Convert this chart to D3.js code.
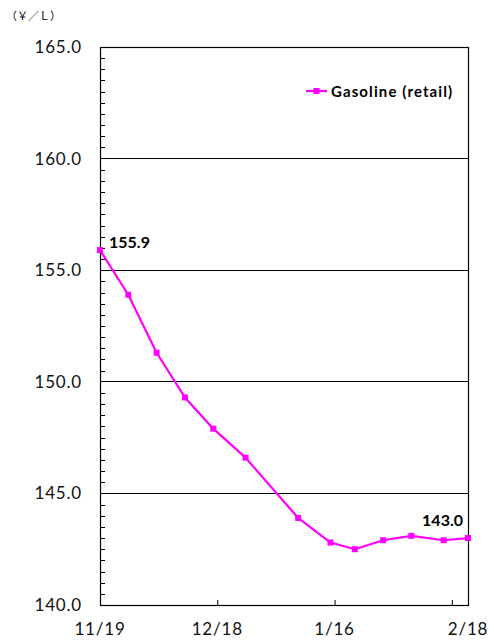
<!DOCTYPE html>
<html>
<head>
<meta charset="utf-8">
<script src="https://cdn.jsdelivr.net/npm/d3@7"></script>
<style>
  html, body { margin: 0; padding: 0; background: #fff; }
  svg { display: block; }
</style>
</head>
<body>
<script>
// Weekly retail gasoline price survey (yen per litre)
const surveyDates = ["2018-11-19", "2018-11-26", "2018-12-03", "2018-12-10", "2018-12-17",
  "2018-12-25", "2019-01-07", "2019-01-15", "2019-01-21", "2019-01-28",
  "2019-02-04", "2019-02-12", "2019-02-18"];
const gasolinePrices = [155.9, 153.9, 151.3, 149.3, 147.9, 146.6, 143.9, 142.8, 142.5, 142.9, 143.1, 142.9, 143.0];
const xLabelDates = ["2018-11-19", "2018-12-18", "2019-01-16", "2019-02-18"];
const xLabelTexts = ["11/19", "12/18", "1/16", "2/18"];
const yTickValues = [140, 145, 150, 155, 160, 165];
const seriesName = "Gasoline (retail)";
const unitLabel = "（￥／Ｌ）";

const W = 494, H = 642;
const margin = { top: 47, right: 26, bottom: 37, left: 100 };
const iw = W - margin.left - margin.right;
const ih = H - margin.top - margin.bottom;
const color = "#ff00ff";
const font = "Lato, 'Open Sans', sans-serif";

const parse = d3.utcParse("%Y-%m-%d");
const data = surveyDates.map((d, i) => ({ date: parse(d), value: gasolinePrices[i] }));

const svg = d3.select("body").append("svg").attr("width", W).attr("height", H);
svg.append("rect").attr("width", W).attr("height", H).attr("fill", "#fff");

const x = d3.scaleUtc()
  .domain([data[0].date, data[data.length - 1].date])
  .range([0, iw]);
const y = d3.scaleLinear().domain([140, 165]).range([ih, 0]);

const g = svg.append("g").attr("transform", `translate(${margin.left},${margin.top})`);

// horizontal gridlines
g.append("g").selectAll("line")
  .data(yTickValues.slice(1, -1))
  .join("line")
  .attr("x1", 0).attr("x2", iw)
  .attr("y1", d => y(d)).attr("y2", d => y(d))
  .attr("stroke", "#000").attr("stroke-width", 1).attr("shape-rendering", "crispEdges");

// minor ticks on the value axis, every 0.5, pointing inward
const minor = d3.range(140.5, 165, 0.5).filter(v => Math.abs(v % 5) > 1e-6);
g.append("g").selectAll("line")
  .data(minor)
  .join("line")
  .attr("x1", 0).attr("x2", 5)
  .attr("y1", d => Math.round(y(d)) + 0.5).attr("y2", d => Math.round(y(d)) + 0.5)
  .attr("stroke", "#000").attr("stroke-width", 1);

// value axis labels
const yAxis = d3.axisLeft(y).tickValues(yTickValues).tickSize(0).tickPadding(18)
  .tickFormat(d3.format(".1f"));
g.append("g").call(yAxis)
  .call(s => s.select(".domain").remove())
  .call(s => s.selectAll("text").attr("font-family", font).attr("font-size", 17)
    .attr("letter-spacing", 0.8).attr("fill", "#111"));

// date axis ticks every 29 days, pointing inward
const tickDates = d3.utcDay.range(data[0].date, data[data.length - 1].date, 29).slice(1);
const xAxis = d3.axisBottom(x).tickValues(tickDates).tickSizeInner(-5).tickSizeOuter(0).tickFormat("");
g.append("g").attr("transform", `translate(0,${ih})`).call(xAxis)
  .call(s => s.select(".domain").remove())
  .call(s => s.selectAll(".tick line").attr("stroke", "#000"));

// date labels
g.append("g").selectAll("text")
  .data(xLabelDates.map((d, i) => ({ date: parse(d), text: xLabelTexts[i] })))
  .join("text")
  .attr("x", d => x(d.date))
  .attr("y", ih + 30)
  .attr("text-anchor", "middle")
  .attr("font-family", font).attr("font-size", 17).attr("letter-spacing", 0.8).attr("fill", "#111")
  .text(d => d.text);

// plot frame
g.append("rect")
  .attr("x", 0.5).attr("y", 0.5).attr("width", iw).attr("height", ih)
  .attr("fill", "none").attr("stroke", "#000").attr("stroke-width", 1.2);

// series line and markers
const line = d3.line().x(d => x(d.date)).y(d => y(d.value));
g.append("path").datum(data)
  .attr("d", line)
  .attr("fill", "none").attr("stroke", color).attr("stroke-width", 2.2)
  .attr("stroke-linejoin", "round");

const ms = 6;
g.append("g").selectAll("rect")
  .data(data)
  .join("rect")
  .attr("x", d => x(d.date) - ms / 2).attr("y", d => y(d.value) - ms / 2)
  .attr("width", ms).attr("height", ms)
  .attr("fill", color);

// value labels on first and last points
const first = data[0], last = data[data.length - 1];
g.append("text")
  .attr("x", x(first.date) + 9).attr("y", y(first.value) - 2)
  .attr("font-family", font).attr("font-weight", "bold").attr("font-size", 16)
  .text(d3.format(".1f")(first.value));
g.append("text")
  .attr("x", x(last.date) - 5).attr("y", y(last.value) - 12)
  .attr("text-anchor", "end")
  .attr("font-family", font).attr("font-weight", "bold").attr("font-size", 16)
  .text(d3.format(".1f")(last.value));

// legend
const lg = g.append("g").attr("transform", `translate(${306 - margin.left},${91 - margin.top})`);
lg.append("line").attr("x1", 0).attr("x2", 21).attr("y1", 0).attr("y2", 0)
  .attr("stroke", color).attr("stroke-width", 2.2);
lg.append("rect").attr("x", 10.5 - ms / 2).attr("y", -ms / 2).attr("width", ms).attr("height", ms)
  .attr("fill", color);
lg.append("text").attr("x", 25).attr("y", 5.5)
  .attr("font-family", font).attr("font-weight", "bold").attr("font-size", 15)
  .attr("letter-spacing", 1.1)
  .text(seriesName);

// unit label
svg.append("text")
  .attr("x", 6).attr("y", 20)
  .attr("font-family", "'Noto Sans CJK JP', sans-serif").attr("font-size", 11)
  .attr("fill", "#000")
  .text(unitLabel);
</script>
</body>
</html>
